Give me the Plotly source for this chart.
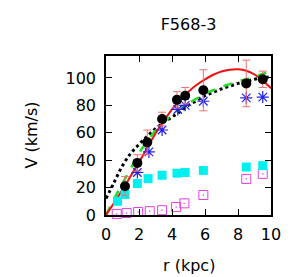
import plotly.graph_objects as go

# Observed rotation curve (black circles with error bars)
r_obs = [1.15, 1.9, 2.5, 3.4, 4.3, 4.8, 5.9, 8.5, 9.5]
v_obs = [21, 38, 53, 70, 84, 87, 91, 96, 99]
e_obs = [7, 6, 9, 5, 6, 6, 15, 17, 6]

# Blue asterisks
r_star = [1.9, 2.6, 3.4, 4.35, 4.8, 5.9, 8.5, 9.5]
v_star = [31, 46, 62, 77, 80, 83, 85.5, 86]

# Cyan filled squares
r_cyan = [0.7, 1.15, 1.9, 2.55, 3.4, 4.3, 4.8, 5.9, 8.5, 9.5]
v_cyan = [10, 15, 23, 26.5, 29, 30.5, 31, 32.5, 35, 36]

# Magenta open squares
r_mag = [0.65, 1.25, 1.95, 2.65, 3.4, 4.25, 4.75, 5.9, 8.5, 9.5]
v_mag = [0.8, 1.5, 2.2, 2.8, 3.5, 5.8, 8.5, 14.6, 26.3, 30]

# Model curves
r_curve = [0, 0.5, 1, 1.5, 2, 2.5, 3, 3.5, 4, 4.5, 5, 5.5, 6, 6.5, 7, 7.5, 8, 8.5, 9, 9.5, 10]
v_red = [0, 9, 18.5, 28.5, 38.5, 49, 59.5, 68.5, 77, 84, 90, 95, 99, 102.3, 104.7, 106, 106.3, 105.3, 102.5, 98, 92.5]
v_green = [0, 12, 23, 34, 45, 54, 61.5, 67.5, 73, 77.5, 81.5, 85, 88.5, 91, 93.5, 95.5, 97.5, 99, 101, 103, 105]
v_dot = [12, 24, 36, 45, 51.5, 57.5, 63, 67.5, 71.5, 75.5, 80, 83.5, 87, 89.5, 92, 94, 96, 97.5, 99, 100, 101]

x_ticks = [0, 2, 4, 6, 8, 10]
y_ticks = [0, 20, 40, 60, 80, 100]

FONT = "DejaVu Sans, Liberation Sans, Arial, sans-serif"
FS = 16

fig = go.Figure()

fig.add_trace(go.Scatter(x=r_curve, y=v_dot, mode="lines", line=dict(color="black", width=3, dash="dot"),
                         line_shape="spline", showlegend=False))
fig.add_trace(go.Scatter(x=r_curve, y=v_green, mode="lines", line=dict(color="#22dd22", width=2.5, dash="dash"),
                         line_shape="spline", showlegend=False))
fig.add_trace(go.Scatter(x=r_curve, y=v_red, mode="lines", line=dict(color="#ee1111", width=2),
                         line_shape="spline", showlegend=False))

fig.add_trace(go.Scatter(x=r_mag, y=v_mag, mode="markers", cliponaxis=False,
                         marker=dict(symbol="square-open-dot", size=9, color="#e040e0", line=dict(width=1)),
                         showlegend=False))
fig.add_trace(go.Scatter(x=r_cyan, y=v_cyan, mode="markers", cliponaxis=False,
                         marker=dict(symbol="square", size=9, color="#00f0f0", line=dict(width=0)),
                         showlegend=False))
fig.add_trace(go.Scatter(x=r_star, y=v_star, mode="markers", cliponaxis=False,
                         marker=dict(symbol="asterisk-open", size=10, color="#2222ee", line=dict(width=1.2, color="#2222ee")),
                         showlegend=False))
fig.add_trace(go.Scatter(x=r_obs, y=v_obs, mode="markers", cliponaxis=False,
                         marker=dict(symbol="circle", size=10, color="black"),
                         error_y=dict(type="data", array=e_obs, color="#f07070", thickness=1, width=4),
                         showlegend=False))

axis_common = dict(showline=True, linecolor="black", linewidth=1.5, mirror="ticks", ticks="inside",
                   ticklen=6, tickwidth=1, tickcolor="black", showgrid=False, zeroline=False,
                   automargin=False,
                   tickfont=dict(family=FONT, size=FS, color="black"))

fig.update_layout(
    width=300, height=277,
    margin=dict(l=106, r=29, t=56, b=62),
    paper_bgcolor="white", plot_bgcolor="white",
    title=dict(text="F568-3", x=0.5, xanchor="center", xref="paper", y=1 - 24 / 277, yref="container",
               yanchor="middle", font=dict(family=FONT, size=FS, color="black")),
    xaxis=dict(range=[0, 10], tickvals=x_ticks, ticktext=[str(v) for v in x_ticks], ticklabelstandoff=4,
               **axis_common),
    yaxis=dict(range=[0, 116], tickvals=y_ticks, ticktext=[str(v) for v in y_ticks], ticklabelstandoff=5,
               **axis_common),
    annotations=[
        dict(text="r (kpc)", xref="paper", yref="paper", x=0.5, y=0, xanchor="center", yanchor="middle",
             yshift=-50, showarrow=False, font=dict(family=FONT, size=FS, color="black")),
        dict(text="V (km/s)", xref="paper", yref="paper", x=0, y=0.5, xanchor="center", yanchor="middle",
             xshift=-75, textangle=-90, showarrow=False, font=dict(family=FONT, size=FS, color="black")),
    ],
)

fig.write_html("out.html", config={"displayModeBar": False},
               post_script="document.body.style.margin='0';document.body.style.padding='0';")
